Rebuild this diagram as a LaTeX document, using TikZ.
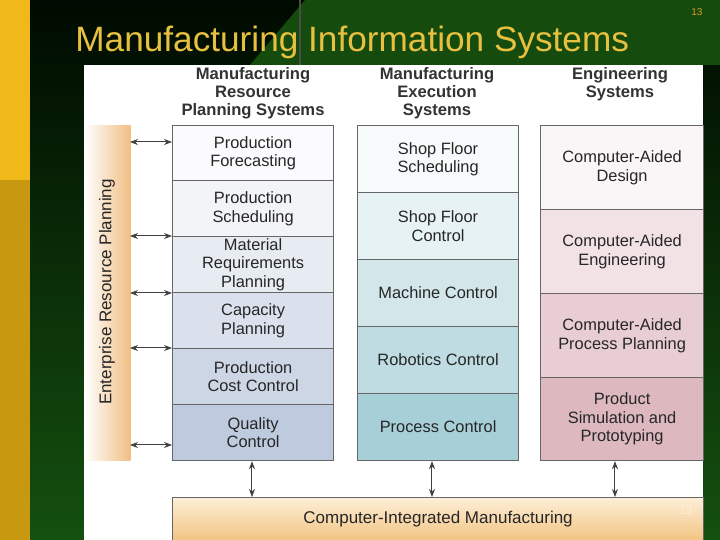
\documentclass[tikz,border=0pt]{standalone}
\usepackage{fontspec}
\setmainfont{Liberation Sans}
\usetikzlibrary{arrows.meta}
\definecolor{ylw}{RGB}{240,184,24}
\definecolor{gold}{RGB}{200,152,16}
\definecolor{ttl}{RGB}{232,192,64}
\definecolor{pno}{RGB}{220,150,40}
\definecolor{erpc}{RGB}{240,190,130}
\definecolor{blu}{RGB}{168,184,210}
\definecolor{teal}{RGB}{145,195,205}
\definecolor{pnk}{RGB}{210,160,170}
\definecolor{cimt}{RGB}{253,238,215}
\definecolor{cimb}{RGB}{242,195,130}
\definecolor{gtop}{RGB}{0,10,0}
\definecolor{gbot}{RGB}{20,80,15}
\definecolor{gtri}{RGB}{22,75,14}
\begin{document}
\begin{tikzpicture}[x=0.5pt,y=-0.5pt,
 box/.style={draw=black!60,line width=0.6pt,anchor=north west,inner sep=0pt,align=center,font=\fontsize{8.2}{9.2}\selectfont,text=black!85},
 hdr/.style={align=center,font=\bfseries\fontsize{8.3}{9}\selectfont,text=black!80},
 arr/.style={{Stealth[length=4pt]}-{Stealth[length=4pt]},black!75,line width=0.5pt}]
\useasboundingbox (0,0) rectangle (720,540);
\fill[top color=gtop,bottom color=gbot] (30,0) rectangle (720,540);
\fill[gtri] (305,0) -- (720,0) -- (720,65) -- (250,65) -- cycle;
\draw[black!70,line width=0.6pt] (300,0) -- (300,65);
\fill[ylw] (0,0) rectangle (30,180);
\fill[gold] (0,180) rectangle (30,540);
\node[anchor=west,inner sep=0pt,text=ttl,font=\fontsize{17.6}{19}\selectfont] (title) at (75,42) {Manufacturing Information Systems};
\node[text=pno,font=\rmfamily\fontsize{5}{6}\selectfont] (pn) at (697,12) {13};
\fill[white] (84,65) rectangle (703,540);
\node[hdr] (h1) at (253,93) {Manufacturing\\Resource\\Planning Systems};
\node[hdr] (h2) at (437,93) {Manufacturing\\Execution\\Systems};
\node[hdr] (h3) at (620,84) {Engineering\\Systems};
\node[box,draw=none,left color=white,right color=erpc,minimum width=23pt,minimum height=167.5pt] (erp) at (84,125) {};
\node[rotate=90,font=\fontsize{8.5}{9}\selectfont,text=black!85] (erpt) at (107,292) {Enterprise Resource Planning};
\foreach \i/\a/\b/\t/\c in {1/125/180/{Production\\Forecasting}/95,2/180/236/{Production\\Scheduling}/85,3/236/292/{Material\\Requirements\\Planning}/72,4/292/348/{Capacity\\Planning}/58,5/348/404/{Production\\Cost Control}/42,6/404/460/{Quality\\Control}/25}{
 \pgfmathsetmacro\h{(\b-\a)/2}
 \node[box,minimum width=80.5pt,minimum height=\h pt,top color=white!\c!blu,bottom color=white!\c!blu] (a\i) at (172,\a) {\t};}
\foreach \i/\a/\b/\t/\c in {1/125/192/{Shop Floor\\Scheduling}/92,2/192/259/{Shop Floor\\Control}/78,3/259/326/{Machine Control}/60,4/326/393/{Robotics Control}/42,5/393/460/{Process Control}/20}{
 \pgfmathsetmacro\h{(\b-\a)/2}
 \node[box,minimum width=80.5pt,minimum height=\h pt,top color=white!\c!teal,bottom color=white!\c!teal] (b\i) at (357,\a) {\t};}
\foreach \i/\a/\b/\t/\c in {1/125/209/{Computer-Aided\\Design}/90,2/209/293/{Computer-Aided\\Engineering}/70,3/293/377/{Computer-Aided\\Process Planning}/48,4/377/460/{Product\\Simulation and\\Prototyping}/25}{
 \pgfmathsetmacro\h{(\b-\a)/2}
 \node[box,minimum width=81.5pt,minimum height=\h pt,top color=white!\c!pnk,bottom color=white!\c!pnk] (c\i) at (540,\a) {\t};}
\coordinate (l1) at (130,142); \coordinate (r1) at (172,142);
\coordinate (l2) at (130,236); \coordinate (r2) at (172,236);
\coordinate (l3) at (130,293); \coordinate (r3) at (172,293);
\coordinate (l4) at (130,348); \coordinate (r4) at (172,348);
\coordinate (l5) at (130,445); \coordinate (r5) at (172,445);
\foreach \k in {1,...,5} \draw[arr] (l\k) -- (r\k);
\node[box,minimum width=265.5pt,minimum height=21.5pt,top color=cimt,bottom color=cimb,font=\fontsize{8.5}{9}\selectfont] (cim) at (172,497) {Computer-Integrated Manufacturing};
\node[text=white!85!orange,font=\fontsize{6}{7}\selectfont] (pn2) at (686,510) {13};
\draw[arr] (a6.south -| 252,0) -- (cim.north -| 252,0);
\draw[arr] (b5.south -| 432,0) -- (cim.north -| 432,0);
\draw[arr] (c4.south -| 615,0) -- (cim.north -| 615,0);
\end{tikzpicture}
\end{document}
